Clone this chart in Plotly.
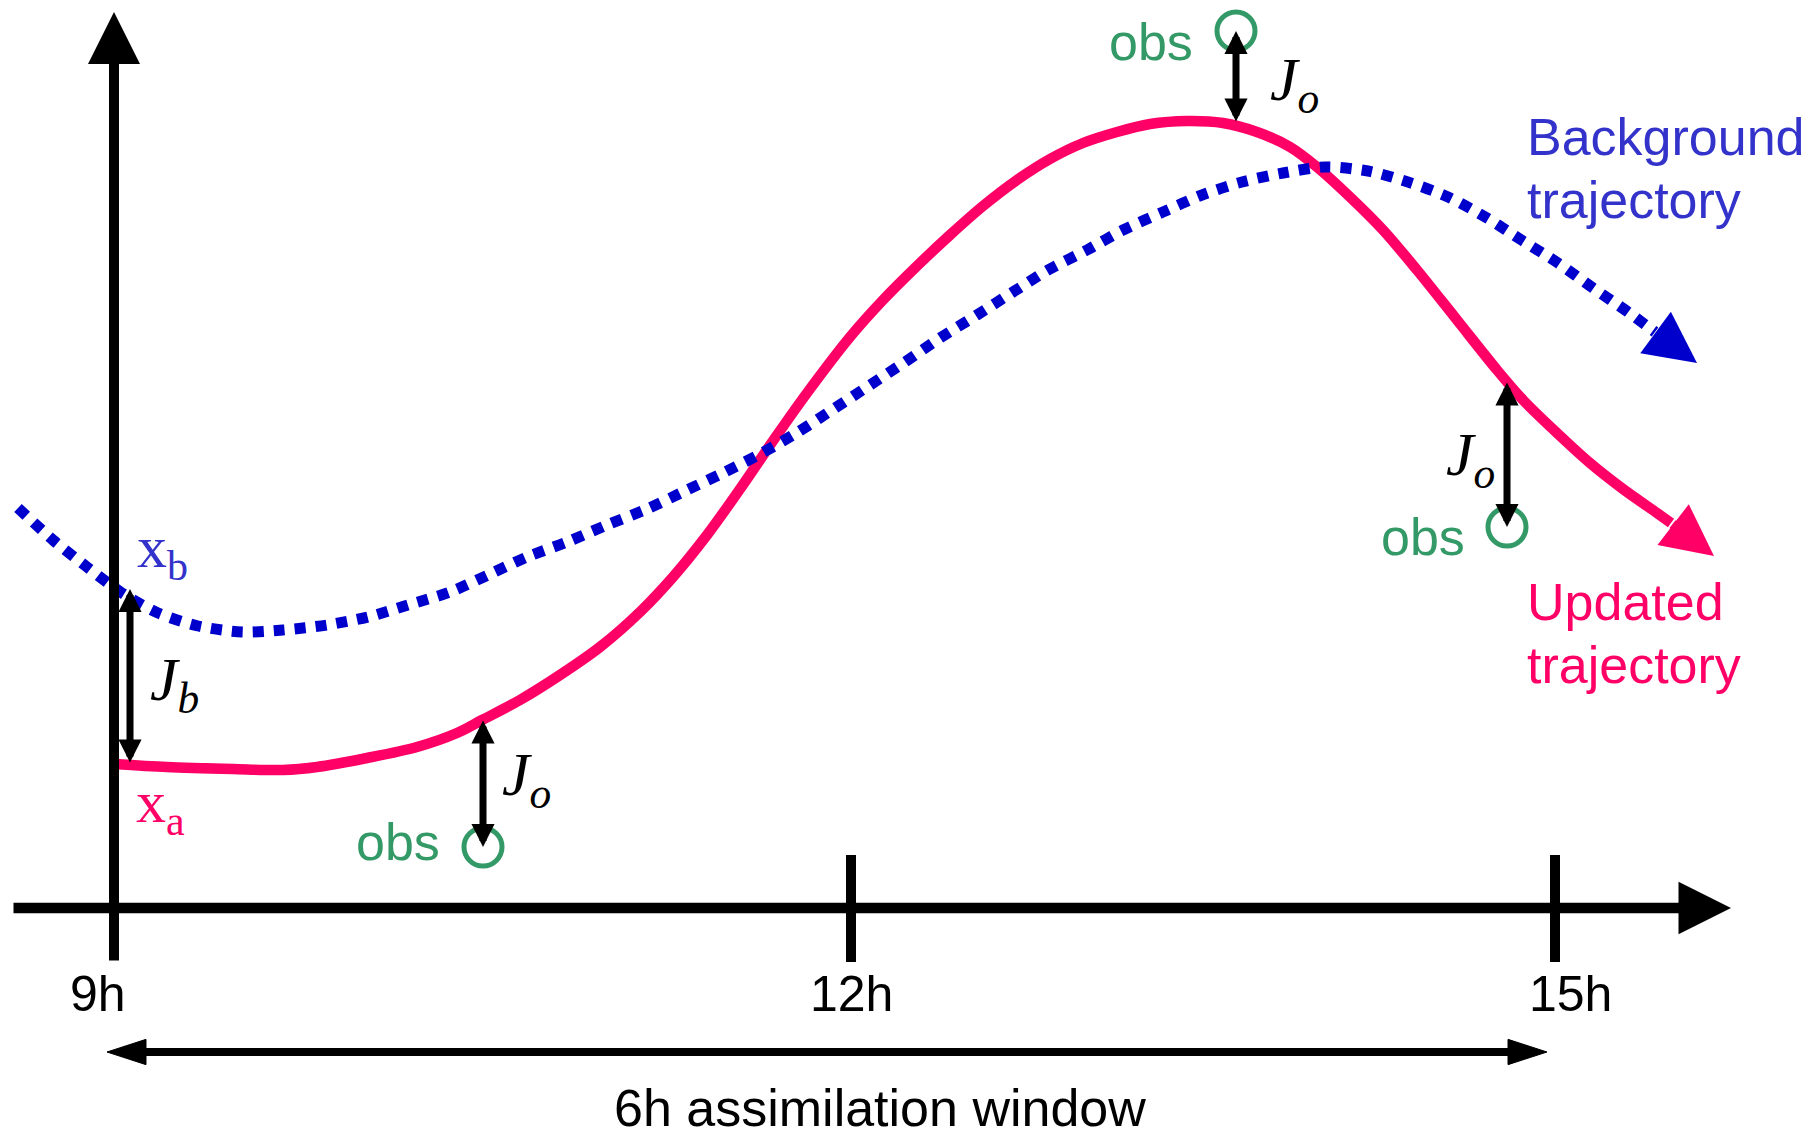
import plotly.graph_objects as go

# ---------------- data (diagram units; y grows downward like the picture) ----------------
# background trajectory (dotted blue)
bg_x = [18, 53, 87, 122, 158, 198, 242, 283, 327, 368, 408, 450, 488, 527, 567, 607, 647, 687,
        723, 762, 798, 835, 870, 905, 940, 977, 1013, 1048, 1087, 1123, 1163, 1202, 1242, 1283,
        1325, 1368, 1408, 1448, 1487, 1523, 1558, 1593, 1628, 1655]
bg_y = [508, 540, 567, 593, 613, 626, 632, 630, 625, 617, 605, 592, 575, 557, 542, 525, 509, 490,
        473, 453, 432, 408, 385, 362, 338, 315, 292, 270, 250, 230, 212, 195, 182, 173,
        167, 171, 182, 197, 218, 241, 263, 288, 312, 332]
bg_tip = [1697, 363]

# updated (analysis) trajectory (solid red)
an_x = [114, 167, 233, 283, 317, 367, 417, 457, 482, 520, 560, 600, 640, 673, 707, 740, 775, 807,
        850, 883, 917, 950, 983, 1017, 1050, 1083, 1117, 1150, 1187, 1223, 1257, 1290, 1317, 1350,
        1383, 1417, 1457, 1497, 1523, 1557, 1590, 1623, 1657, 1671]
an_y = [764, 767, 769, 770, 767, 758, 747, 733, 720, 700, 675, 647, 612, 577, 535, 489, 438, 393,
        337, 300, 266, 235, 206, 180, 159, 143, 132, 124, 121, 123, 132, 147, 167, 197,
        230, 270, 320, 370, 400, 433, 463, 489, 513, 523]
an_tip = [1714, 556]

# observations and the analysis value at each observation time
obs_x = [483, 1236, 1507]
obs_y = [847, 31, 527]
an_at_obs = [719, 123, 381]

# background departure at initial time
jb_x = 130
xb_val = 589
xa_val = 764

# time axis
axis_y = 908
axis_x = [12, 1731]
vaxis_x = 114
vaxis_y = [962, 12]
tick_x = [851, 1555]
tick_y = [855, 962]
tick_labels = ["9h", "12h", "15h"]
tick_label_x = [98, 851, 1570]
tick_label_y = 994
window_x = [107, 1547]
window_y = 1052

# ---------------- styles ----------------
RED = "#FF0066"
BLUE = "#0000CC"
BLUE_TXT = "#3333CC"
GREEN = "#339966"
SANS = "Liberation Sans, Arial, sans-serif"
SERIF = "Liberation Serif, Times New Roman, serif"

fig = go.Figure()

# updated trajectory
fig.add_trace(go.Scatter(x=an_x, y=an_y, mode="lines",
                         line=dict(color=RED, width=10.5, shape="spline", smoothing=0.9),
                         hoverinfo="skip"))
# background trajectory
fig.add_trace(go.Scatter(x=bg_x, y=bg_y, mode="lines",
                         line=dict(color=BLUE, width=11, dash="11px,10px", shape="spline", smoothing=0.8),
                         hoverinfo="skip"))

# tick marks at 12h and 15h
tx, ty = [], []
for t in tick_x:
    tx += [t, t, None]
    ty += [tick_y[0], tick_y[1], None]
fig.add_trace(go.Scatter(x=tx, y=ty, mode="lines", line=dict(color="black", width=10),
                         hoverinfo="skip"))

# assimilation window double arrow (two halves, arrow marker at each end)
mid = (window_x[0] + window_x[1]) / 2
for end in window_x:
    fig.add_trace(go.Scatter(x=[mid, end], y=[window_y, window_y], mode="lines+markers",
                             line=dict(color="black", width=8, backoff=18),
                             marker=dict(symbol="arrow", size=[0, 41], color="black",
                                         angleref="previous", opacity=1,
                                         line=dict(width=1, color="black")),
                             hoverinfo="skip"))

# observation circles
fig.add_trace(go.Scatter(x=obs_x, y=obs_y, mode="markers",
                         marker=dict(symbol="circle-open", size=38, color=GREEN,
                                     line=dict(width=5, color=GREEN)),
                         hoverinfo="skip"))

ann = []


def arrow(x0, y0, x1, y1, width, size, color="black", both=False):
    d = dict(x=x1, y=y1, ax=x0, ay=y0, xref="x", yref="y", axref="x", ayref="y",
             text="", showarrow=True, arrowhead=2, arrowsize=size, arrowwidth=width,
             arrowcolor=color, standoff=0, startstandoff=0)
    if both:
        d.update(arrowside="end+start", startarrowhead=2, startarrowsize=size)
    ann.append(d)


# axes
arrow(vaxis_x, vaxis_y[0], vaxis_x, vaxis_y[1], 10, 1.04)
arrow(axis_x[0], axis_y, axis_x[1], axis_y, 10.5, 1.0)

# trajectory arrow heads
arrow(bg_x[-1], bg_y[-1], bg_tip[0], bg_tip[1], 10, 1.03, BLUE)
arrow(an_x[-1], an_y[-1], an_tip[0], an_tip[1], 10, 1.03, RED)

# Jb and Jo double arrows
arrow(jb_x, xa_val, jb_x, xb_val, 7, 0.66, both=True)
for ox, oy, ay in zip(obs_x, obs_y, an_at_obs):
    arrow(ox, ay, ox, oy, 7, 0.66, both=True)


def text(t, x, y, size, color, family=SANS, xanchor="center", yanchor="middle", style="normal"):
    ann.append(dict(x=x, y=y, xref="x", yref="y", text=t, showarrow=False,
                    xanchor=xanchor, yanchor=yanchor,
                    font=dict(family=family, size=size, color=color, style=style)))


# tick labels and window label
for lab, lx in zip(tick_labels, tick_label_x):
    text(lab, lx, tick_label_y, 50, "black")
text("6h assimilation window", 880, 1139, 52, "black", yanchor="bottom")

# obs labels
for lx, ly in zip([398, 1151, 1423], [842, 42, 537]):
    text("obs", lx, ly, 52, GREEN)

# trajectory labels
text("Background", 1525, 137, 52, BLUE_TXT, xanchor="left")
text("trajectory", 1525, 200, 52, BLUE_TXT, xanchor="left")
text("Updated", 1525, 602, 52, RED, xanchor="left")
text("trajectory", 1525, 665, 52, RED, xanchor="left")

# state labels
text("x<sub>b</sub>", 135, 512, 60, BLUE_TXT, family=SERIF, xanchor="left", yanchor="top")
text("x<sub>a</sub>", 134, 767, 60, RED, family=SERIF, xanchor="left", yanchor="top")

# cost-function labels
text("J<sub>b</sub>", 148, 643, 62, "black", family=SERIF, xanchor="left", yanchor="top", style="italic")
for lx, ly in zip([500, 1268, 1444], [738, 43, 418]):
    text("J<sub>o</sub>", lx, ly, 62, "black", family=SERIF, xanchor="left", yanchor="top", style="italic")

fig.update_layout(
    width=1812, height=1140,
    margin=dict(l=0, r=0, t=0, b=0),
    paper_bgcolor="white", plot_bgcolor="white",
    showlegend=False,
    xaxis=dict(range=[0, 1812], visible=False, fixedrange=True),
    yaxis=dict(range=[1140, 0], visible=False, fixedrange=True),
    annotations=ann,
)

fig.write_html("out.html", config={"displayModeBar": False},
               post_script="document.body.style.margin='0';document.body.style.overflow='hidden';")
